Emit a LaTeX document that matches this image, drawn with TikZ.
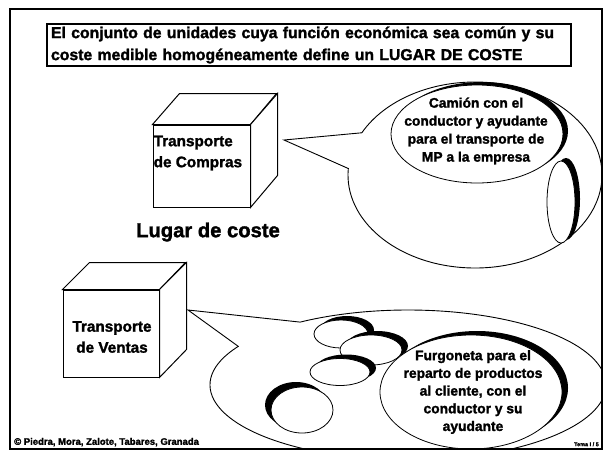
\documentclass[tikz,border=0pt]{standalone}
\usepackage{fontspec}
\setmainfont{Liberation Sans}[BoldFeatures={FakeBold=1.6}]
\usetikzlibrary{calc}

\begin{document}
\begin{tikzpicture}[x=1pt,y=-1pt,
  every node/.style={font=\bfseries},
  face/.style={draw, line width=1pt, fill=white, inner sep=0pt},
  bubble/.style={draw, line width=0.9pt, fill=white},
  cloud/.style={draw, line width=0.8pt, fill=white},
  talk/.style={align=center, font=\bfseries\fontsize{13.8}{18}\selectfont}]

  \useasboundingbox (0,0) rectangle (604,455);

  % Title box
  \node[draw, line width=1.2pt, text width=516pt, inner xsep=4pt, inner ysep=2.5pt,
        align=left, font=\bfseries\fontsize{15.8}{22}\selectfont] (title) at (309,45)
    {El conjunto de unidades cuya función económica sea común y su\\
     coste medible homogéneamente define un LUGAR DE COSTE};

  % Cube: Transporte de Compras
  \node[face, minimum width=97pt, minimum height=82pt] (compras) at (201.5,166) {};
  \draw[line width=1pt, fill=white] (compras.north west) -- ++(27,-31) -- ++(97,0) -- (compras.north east) -- cycle;
  \draw[line width=1pt, fill=white] (compras.north east) -- ++(27,-31) -- ++(0,82) -- (compras.south east) -- cycle;
  \node[anchor=north west, inner sep=1pt, align=left,
        font=\bfseries\fontsize{15.3}{21}\selectfont] (compras-txt)
    at ($(compras.north west)+(0,10)$) {Transporte\\de Compras};

  \node[font=\bfseries\fontsize{20.2}{22}\selectfont] (lugar) at (208,232) {Lugar de coste};

  % Cube: Transporte de Ventas
  \node[face, minimum width=96pt, minimum height=87pt] (ventas) at (111,333.5) {};
  \draw[line width=1pt, fill=white] (ventas.north west) -- ++(27,-27) -- ++(96,0) -- (ventas.north east) -- cycle;
  \draw[line width=1pt, fill=white] (ventas.north east) -- ++(27,-27) -- ++(0,87) -- (ventas.south east) -- cycle;
  \node[align=center, font=\bfseries\fontsize{15.3}{21}\selectfont] (ventas-txt)
    at (112,337) {Transporte\\de Ventas};

  % Radii of the bubbles
  \def\ra{127} \def\rb{93}
  \def\rc{198} \def\rd{75}

  % Bubble for the lorry
  \coordinate (c1) at (475,175);
  \coordinate (tip1) at (284,140);
  \draw[bubble] (c1) ++(184:{\ra} and {\rb}) arc (184:-153:{\ra} and {\rb}) -- (tip1) -- cycle;

  \fill (482,131) ellipse (86 and 49);
  \draw[cloud] (477,134) ellipse (86 and 49);
  \node[talk] (camion) at (476,131)
    {Camión con el\\conductor y ayudante\\para el transporte de\\MP a la empresa};

  \fill (566,199) ellipse (14 and 41);
  \draw[cloud] (561,202) ellipse (14 and 41);

  % Bubble for the van
  \coordinate (c2) at (408,385);
  \coordinate (tip2) at (188,310);
  \begin{scope}
    \clip (10,9) rectangle (602,449);
    \draw[bubble] (c2) ++(211:{\rc} and {\rd}) arc (211:-123:{\rc} and {\rd}) -- (tip2) -- cycle;

    \fill (347,330) ellipse (27 and 14);
    \draw[cloud] (341,334) ellipse (27 and 14);
    \fill (377,346) ellipse (31 and 15);
    \draw[cloud] (371,350) ellipse (31 and 15);
    \fill (346,368) ellipse (30 and 13.5);
    \draw[cloud] (340,372) ellipse (30 and 13.5);
    \fill (296,405) ellipse (31 and 23);
    \draw[cloud] (302,410) ellipse (31 and 23);

    \fill (477,388) ellipse (91 and 57);
    \draw[cloud] (471,392) ellipse (91 and 57);
  \end{scope}
  \node[talk, font=\bfseries\fontsize{13.8}{17.7}\selectfont] (furgoneta) at (473,392)
    {Furgoneta para el\\reparto de productos\\al cliente, con el\\conductor y su\\ayudante};

  % Frame and footer
  \draw[line width=2.5pt] (10,9) rectangle (602,449);
  \node[anchor=south west, inner sep=1pt, font=\bfseries\fontsize{9.5}{10}\selectfont] (autores)
    at (13,447.5) {© Piedra, Mora, Zalote, Tabares, Granada};
  \node[anchor=south east, inner sep=1pt, font=\bfseries\fontsize{5.5}{6}\selectfont] (tema)
    at (600,447.5) {Tema I / 5};

\end{tikzpicture}
\end{document}
